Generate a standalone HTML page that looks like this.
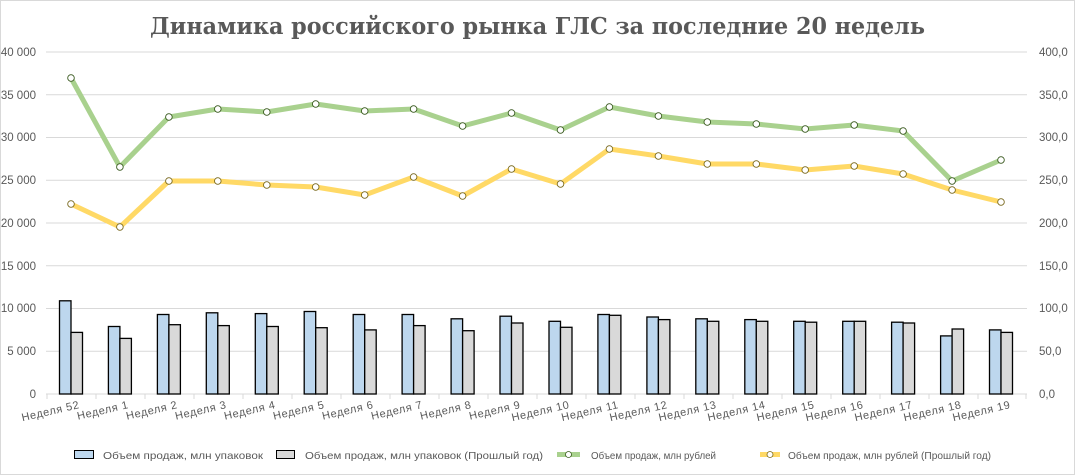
<!DOCTYPE html>
<html><head><meta charset="utf-8"><style>
body{margin:0;background:#fff}
svg{display:block;font-family:"Liberation Sans",sans-serif}
</style></head><body>
<svg width="1075" height="475" viewBox="0 0 1075 475">
<rect x="0.5" y="0.5" width="1074" height="474" fill="#fff" stroke="#d9d9d9"/>
<text x="150" y="34" textLength="775" lengthAdjust="spacingAndGlyphs" font-family="'DejaVu Serif','Liberation Serif',serif" font-weight="bold" font-size="23" fill="#595959">Динамика российского рынка ГЛС за последние 20 недель</text>
<g stroke="#d9d9d9" stroke-width="1">
<line x1="46" y1="52" x2="1027" y2="52"/><line x1="46" y1="94.75" x2="1027" y2="94.75"/><line x1="46" y1="137.5" x2="1027" y2="137.5"/><line x1="46" y1="180.25" x2="1027" y2="180.25"/><line x1="46" y1="223" x2="1027" y2="223"/><line x1="46" y1="265.75" x2="1027" y2="265.75"/><line x1="46" y1="308.5" x2="1027" y2="308.5"/><line x1="46" y1="351.25" x2="1027" y2="351.25"/><line x1="46" y1="394" x2="1027" y2="394"/>
</g>
<g stroke="#d9d9d9" stroke-width="1">
<line x1="47" y1="394" x2="47" y2="399"/><line x1="96" y1="394" x2="96" y2="399"/><line x1="145" y1="394" x2="145" y2="399"/><line x1="194" y1="394" x2="194" y2="399"/><line x1="243" y1="394" x2="243" y2="399"/><line x1="292" y1="394" x2="292" y2="399"/><line x1="341" y1="394" x2="341" y2="399"/><line x1="390" y1="394" x2="390" y2="399"/><line x1="439" y1="394" x2="439" y2="399"/><line x1="488" y1="394" x2="488" y2="399"/><line x1="537" y1="394" x2="537" y2="399"/><line x1="586" y1="394" x2="586" y2="399"/><line x1="635" y1="394" x2="635" y2="399"/><line x1="684" y1="394" x2="684" y2="399"/><line x1="733" y1="394" x2="733" y2="399"/><line x1="782" y1="394" x2="782" y2="399"/><line x1="831" y1="394" x2="831" y2="399"/><line x1="880" y1="394" x2="880" y2="399"/><line x1="929" y1="394" x2="929" y2="399"/><line x1="978" y1="394" x2="978" y2="399"/><line x1="1026" y1="394" x2="1026" y2="399"/>
</g>
<g font-size="11.5" fill="#595959" text-anchor="end">
<text x="36" y="56">40 000</text><text x="36" y="99">35 000</text><text x="36" y="141">30 000</text><text x="36" y="184">25 000</text><text x="36" y="227">20 000</text><text x="36" y="270">15 000</text><text x="36" y="312">10 000</text><text x="36" y="355">5 000</text><text x="36" y="398">0</text>
</g>
<g font-size="11.5" fill="#595959">
<text x="1039" y="56">400,0</text><text x="1039" y="99">350,0</text><text x="1039" y="141">300,0</text><text x="1039" y="184">250,0</text><text x="1039" y="227">200,0</text><text x="1039" y="270">150,0</text><text x="1039" y="312">100,0</text><text x="1039" y="355">50,0</text><text x="1039" y="398">0,0</text>
</g>
<g stroke="#000" stroke-width="1.3">
<rect x="59.5" y="300.8" width="11.5" height="93.2" fill="#bdd7ee"/><rect x="71" y="332.4" width="11.5" height="61.6" fill="#d9d9d9"/>
<rect x="108.4" y="326.5" width="11.5" height="67.5" fill="#bdd7ee"/><rect x="119.9" y="338.4" width="11.5" height="55.6" fill="#d9d9d9"/>
<rect x="157.4" y="314.5" width="11.5" height="79.5" fill="#bdd7ee"/><rect x="168.9" y="324.7" width="11.5" height="69.3" fill="#d9d9d9"/>
<rect x="206.3" y="312.8" width="11.5" height="81.2" fill="#bdd7ee"/><rect x="217.8" y="325.6" width="11.5" height="68.4" fill="#d9d9d9"/>
<rect x="255.3" y="313.6" width="11.5" height="80.4" fill="#bdd7ee"/><rect x="266.8" y="326.5" width="11.5" height="67.5" fill="#d9d9d9"/>
<rect x="304.2" y="311.5" width="11.5" height="82.5" fill="#bdd7ee"/><rect x="315.7" y="327.7" width="11.5" height="66.3" fill="#d9d9d9"/>
<rect x="353.2" y="314.5" width="11.5" height="79.5" fill="#bdd7ee"/><rect x="364.7" y="329.9" width="11.5" height="64.1" fill="#d9d9d9"/>
<rect x="402.1" y="314.5" width="11.5" height="79.5" fill="#bdd7ee"/><rect x="413.6" y="325.6" width="11.5" height="68.4" fill="#d9d9d9"/>
<rect x="451.1" y="318.8" width="11.5" height="75.2" fill="#bdd7ee"/><rect x="462.6" y="330.7" width="11.5" height="63.3" fill="#d9d9d9"/>
<rect x="500" y="316.2" width="11.5" height="77.8" fill="#bdd7ee"/><rect x="511.5" y="323" width="11.5" height="71" fill="#d9d9d9"/>
<rect x="549" y="321.3" width="11.5" height="72.7" fill="#bdd7ee"/><rect x="560.5" y="327.3" width="11.5" height="66.7" fill="#d9d9d9"/>
<rect x="597.9" y="314.5" width="11.5" height="79.5" fill="#bdd7ee"/><rect x="609.4" y="315.3" width="11.5" height="78.7" fill="#d9d9d9"/>
<rect x="646.9" y="317" width="11.5" height="77" fill="#bdd7ee"/><rect x="658.4" y="319.6" width="11.5" height="74.4" fill="#d9d9d9"/>
<rect x="695.8" y="318.8" width="11.5" height="75.2" fill="#bdd7ee"/><rect x="707.3" y="321.3" width="11.5" height="72.7" fill="#d9d9d9"/>
<rect x="744.8" y="319.6" width="11.5" height="74.4" fill="#bdd7ee"/><rect x="756.3" y="321.3" width="11.5" height="72.7" fill="#d9d9d9"/>
<rect x="793.7" y="321.3" width="11.5" height="72.7" fill="#bdd7ee"/><rect x="805.2" y="322.2" width="11.5" height="71.8" fill="#d9d9d9"/>
<rect x="842.7" y="321.3" width="11.5" height="72.7" fill="#bdd7ee"/><rect x="854.2" y="321.3" width="11.5" height="72.7" fill="#d9d9d9"/>
<rect x="891.6" y="322.2" width="11.5" height="71.8" fill="#bdd7ee"/><rect x="903.1" y="323" width="11.5" height="71" fill="#d9d9d9"/>
<rect x="940.6" y="335.9" width="11.5" height="58.1" fill="#bdd7ee"/><rect x="952.1" y="329" width="11.5" height="65" fill="#d9d9d9"/>
<rect x="989.5" y="329.9" width="11.5" height="64.1" fill="#bdd7ee"/><rect x="1001" y="332.4" width="11.5" height="61.6" fill="#d9d9d9"/>
</g>
<polyline fill="none" stroke="#a9d18e" stroke-width="5" stroke-linejoin="round" points="71,78 119.9,167 168.9,117 217.8,109 266.8,112 315.7,104 364.7,111 413.6,109 462.6,126 511.5,113 560.5,130 609.4,107 658.4,116 707.3,122 756.3,124 805.2,129 854.2,125 903.1,131 952.1,181 1001,160"/>
<polyline fill="none" stroke="#ffd966" stroke-width="5" stroke-linejoin="round" points="71,204 119.9,227 168.9,181 217.8,181 266.8,185 315.7,187 364.7,195 413.6,177 462.6,196 511.5,169 560.5,184 609.4,149 658.4,156 707.3,164 756.3,164 805.2,170 854.2,166 903.1,174 952.1,190 1001,202"/>
<g fill="#fff" stroke="#3a5a20" stroke-width="0.9">
<circle cx="71" cy="78" r="3.3"/><circle cx="119.9" cy="167" r="3.3"/><circle cx="168.9" cy="117" r="3.3"/><circle cx="217.8" cy="109" r="3.3"/><circle cx="266.8" cy="112" r="3.3"/><circle cx="315.7" cy="104" r="3.3"/><circle cx="364.7" cy="111" r="3.3"/><circle cx="413.6" cy="109" r="3.3"/><circle cx="462.6" cy="126" r="3.3"/><circle cx="511.5" cy="113" r="3.3"/><circle cx="560.5" cy="130" r="3.3"/><circle cx="609.4" cy="107" r="3.3"/><circle cx="658.4" cy="116" r="3.3"/><circle cx="707.3" cy="122" r="3.3"/><circle cx="756.3" cy="124" r="3.3"/><circle cx="805.2" cy="129" r="3.3"/><circle cx="854.2" cy="125" r="3.3"/><circle cx="903.1" cy="131" r="3.3"/><circle cx="952.1" cy="181" r="3.3"/><circle cx="1001" cy="160" r="3.3"/>
</g>
<g fill="#fff" stroke="#7a6a20" stroke-width="0.9">
<circle cx="71" cy="204" r="3.3"/><circle cx="119.9" cy="227" r="3.3"/><circle cx="168.9" cy="181" r="3.3"/><circle cx="217.8" cy="181" r="3.3"/><circle cx="266.8" cy="185" r="3.3"/><circle cx="315.7" cy="187" r="3.3"/><circle cx="364.7" cy="195" r="3.3"/><circle cx="413.6" cy="177" r="3.3"/><circle cx="462.6" cy="196" r="3.3"/><circle cx="511.5" cy="169" r="3.3"/><circle cx="560.5" cy="184" r="3.3"/><circle cx="609.4" cy="149" r="3.3"/><circle cx="658.4" cy="156" r="3.3"/><circle cx="707.3" cy="164" r="3.3"/><circle cx="756.3" cy="164" r="3.3"/><circle cx="805.2" cy="170" r="3.3"/><circle cx="854.2" cy="166" r="3.3"/><circle cx="903.1" cy="174" r="3.3"/><circle cx="952.1" cy="190" r="3.3"/><circle cx="1001" cy="202" r="3.3"/>
</g>
<g font-size="11" fill="#595959" text-anchor="end" letter-spacing="0.6">
<text transform="translate(80,408) rotate(-13)">Неделя 52</text>
<text transform="translate(129,408) rotate(-13)">Неделя 1</text>
<text transform="translate(178,408) rotate(-13)">Неделя 2</text>
<text transform="translate(227,408) rotate(-13)">Неделя 3</text>
<text transform="translate(276,408) rotate(-13)">Неделя 4</text>
<text transform="translate(325,408) rotate(-13)">Неделя 5</text>
<text transform="translate(374,408) rotate(-13)">Неделя 6</text>
<text transform="translate(423,408) rotate(-13)">Неделя 7</text>
<text transform="translate(472,408) rotate(-13)">Неделя 8</text>
<text transform="translate(521,408) rotate(-13)">Неделя 9</text>
<text transform="translate(570,408) rotate(-13)">Неделя 10</text>
<text transform="translate(619,408) rotate(-13)">Неделя 11</text>
<text transform="translate(668,408) rotate(-13)">Неделя 12</text>
<text transform="translate(717,408) rotate(-13)">Неделя 13</text>
<text transform="translate(766,408) rotate(-13)">Неделя 14</text>
<text transform="translate(815,408) rotate(-13)">Неделя 15</text>
<text transform="translate(864,408) rotate(-13)">Неделя 16</text>
<text transform="translate(913,408) rotate(-13)">Неделя 17</text>
<text transform="translate(962,408) rotate(-13)">Неделя 18</text>
<text transform="translate(1011,408) rotate(-13)">Неделя 19</text>
</g>
<g font-size="10.5" fill="#595959">
<rect x="74.5" y="450.5" width="19" height="8" fill="#bdd7ee" stroke="#000"/>
<text x="103" y="459" textLength="160" lengthAdjust="spacingAndGlyphs">Объем продаж, млн упаковок</text>
<rect x="276.5" y="450.5" width="18" height="8" fill="#d9d9d9" stroke="#000"/>
<text x="305" y="459" textLength="238" lengthAdjust="spacingAndGlyphs">Объем продаж, млн упаковок (Прошлый год)</text>
<line x1="557" y1="454.5" x2="580" y2="454.5" stroke="#a9d18e" stroke-width="5"/>
<circle cx="568.5" cy="454.5" r="3" fill="#fff" stroke="#3a5a20" stroke-width="0.8"/>
<text x="591" y="459" textLength="125" lengthAdjust="spacingAndGlyphs">Объем продаж, млн рублей</text>
<line x1="760" y1="454.5" x2="780" y2="454.5" stroke="#ffd966" stroke-width="5"/>
<circle cx="770" cy="454.5" r="3" fill="#fff" stroke="#7a6a20" stroke-width="0.8"/>
<text x="788" y="459" textLength="203" lengthAdjust="spacingAndGlyphs">Объем продаж, млн рублей (Прошлый год)</text>
</g>
</svg>
</body></html>
